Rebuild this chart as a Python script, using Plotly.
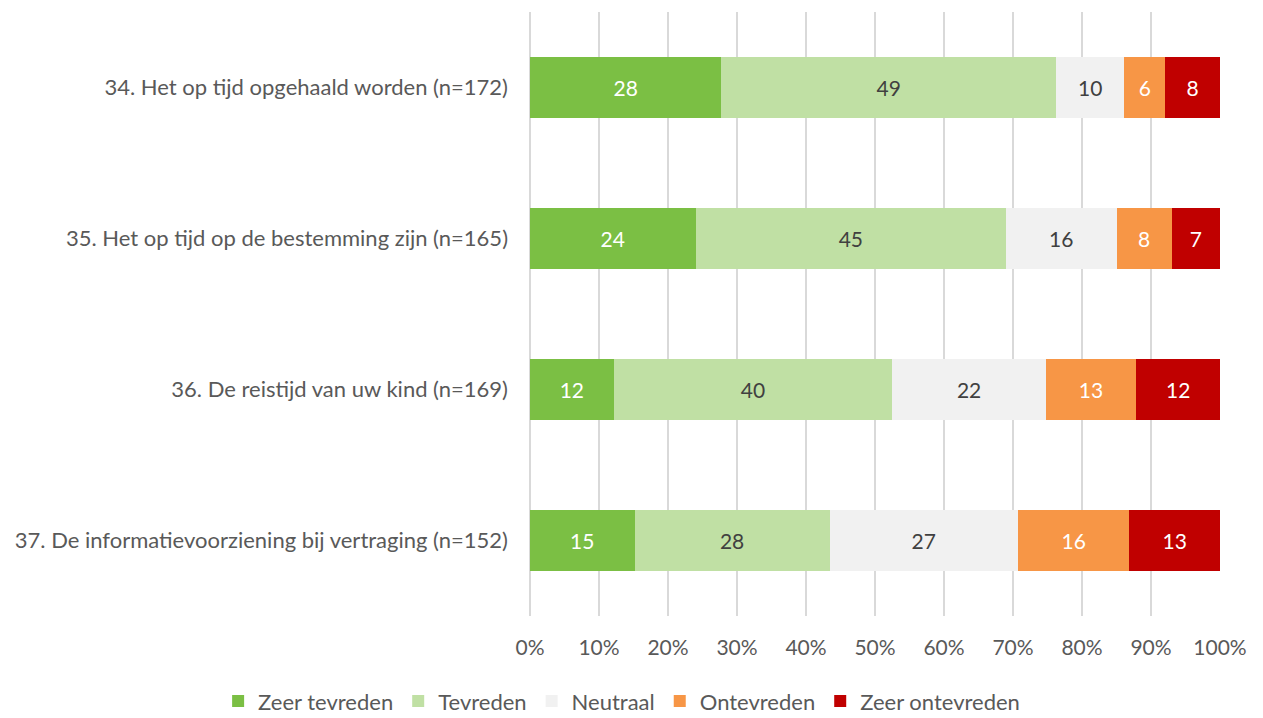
import plotly.graph_objects as go

vragen = [
    "34. Het op tijd opgehaald worden (n=172)",
    "35. Het op tijd op de bestemming zijn (n=165)",
    "36. De reistijd van uw kind (n=169)",
    "37. De informatievoorziening bij vertraging (n=152)",
]

zeer_tevreden = [28, 24, 12, 15]
tevreden = [49, 45, 40, 28]
neutraal = [10, 16, 22, 27]
ontevreden = [6, 8, 13, 16]
zeer_ontevreden = [8, 7, 12, 13]

reeksen = [
    ("Zeer tevreden", zeer_tevreden, "#7BBF44", "white"),
    ("Tevreden", tevreden, "#C0E0A4", "#404040"),
    ("Neutraal", neutraal, "#F1F1F1", "#404040"),
    ("Ontevreden", ontevreden, "#F79646", "white"),
    ("Zeer ontevreden", zeer_ontevreden, "#C00000", "white"),
]

font_naam = "Lato, 'Open Sans', sans-serif"

fig = go.Figure()

for naam, waarden, kleur, tekstkleur in reeksen:
    fig.add_trace(
        go.Bar(
            y=vragen,
            x=waarden,
            orientation="h",
            name=naam,
            marker=dict(color=kleur, line=dict(width=0)),
            text=[str(v) for v in waarden],
            textposition="inside",
            insidetextanchor="middle",
            textangle=0,
            textfont=dict(color=tekstkleur, size=21, family=font_naam),
            hovertemplate=naam + "<br>%{y}<br>%{text}%<extra></extra>",
        )
    )

# de pagina heeft 8px body-marge, daarom marges iets verschoven
fig.update_layout(
    barmode="stack",
    barnorm="percent",
    bargap=0.6,
    width=1263,
    height=718,
    plot_bgcolor="white",
    paper_bgcolor="white",
    font=dict(family=font_naam, size=21, color="#595959"),
    margin=dict(l=522, r=51, t=4, b=104),
    uniformtext=dict(minsize=10, mode="show"),
    legend=dict(
        orientation="h",
        x=-0.452,
        xanchor="left",
        y=-0.141,
        yanchor="middle",
        font=dict(size=22, color="#595959"),
        itemwidth=30,
        traceorder="normal",
    ),
)

fig.update_xaxes(
    range=[0, 100],
    tickvals=[0, 10, 20, 30, 40, 50, 60, 70, 80, 90, 100],
    ticktext=["0%", "10%", "20%", "30%", "40%", "50%", "60%", "70%", "80%", "90%", "100%"],
    showgrid=True,
    gridcolor="#D9D9D9",
    gridwidth=2,
    zeroline=True,
    zerolinecolor="#D9D9D9",
    zerolinewidth=2,
    showline=False,
    ticks="",
    automargin=False,
    ticklabelstandoff=17,
    tickfont=dict(size=21, color="#595959"),
)

fig.update_yaxes(
    autorange="reversed",
    showgrid=False,
    ticks="",
    automargin=False,
    ticklabelstandoff=21,
    tickfont=dict(size=22, color="#595959"),
)

fig.write_html("out.html")
